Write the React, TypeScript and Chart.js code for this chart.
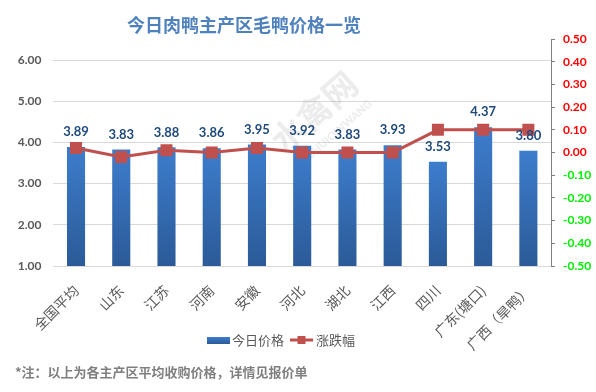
import React, { useEffect, useRef } from 'react';
import { Chart, registerables } from 'chart.js';
Chart.register(...registerables);

const categories = ['全国平均', '山东', '江苏', '河南', '安徽', '河北', '湖北', '江西', '四川', '广东(塘口)', '广西（旱鸭）'];
const prices = [3.89, 3.83, 3.88, 3.86, 3.95, 3.92, 3.83, 3.93, 3.53, 4.37, 3.80];
const changes = [0.02, -0.02, 0.01, 0.0, 0.02, 0.0, 0.0, 0.0, 0.1, 0.1, 0.1];
const leftTicks = [1, 2, 3, 4, 5, 6];
const seriesNames = ['今日价格', '涨跌幅'];
const titleText = '今日肉鸭主产区毛鸭价格一览';
const noteText = '*注：以上为各主产区平均收购价格，详情见报价单';

const CJK = '"Noto Sans CJK SC", sans-serif';
const NUM = 'Lato, "Noto Sans CJK SC", sans-serif';
const BAR_TOP = '#3d7dcd';
const BAR_BOTTOM = '#2b5a97';
const RED = '#c0504d';

export default function App() {
  const ref = useRef<HTMLCanvasElement>(null);
  useEffect(() => {
    document.body.style.margin = '0';
    const canvas = ref.current!;
    const decor = {
      id: 'decor',
      beforeDatasetsDraw(chart: any) {
        const c = chart.ctx;
        c.save();
        c.translate(314, 112);
        c.rotate(-0.72);
        c.fillStyle = 'rgba(160,160,160,0.2)';
        c.font = `bold 34px ${CJK}`;
        c.textAlign = 'center';
        c.textBaseline = 'middle';
        c.fillText('水禽网', 0, 0);
        c.font = `bold 11px ${NUM}`;
        c.fillText('SHUIQINWANG', 8, 30);
        c.restore();
      },
      afterDatasetsDraw(chart: any) {
        const c = chart.ctx;
        const meta = chart.getDatasetMeta(1);
        c.save();
        c.font = `bold 13px ${NUM}`;
        c.fillStyle = '#1f497d';
        c.textAlign = 'center';
        c.textBaseline = 'middle';
        meta.data.forEach((el: any, i: number) => {
          c.fillText(prices[i].toFixed(2), el.x, el.y - 15);
        });
        c.restore();
      },
      afterDraw(chart: any) {
        const c = chart.ctx;
        c.save();
        // title
        c.font = `bold 18px ${CJK}`;
        c.fillStyle = '#4f81bd';
        c.textAlign = 'center';
        c.textBaseline = 'middle';
        c.fillText(titleText, 244, 25);
        // legend
        const ly = 340;
        const g = c.createLinearGradient(0, ly - 3, 0, ly + 4);
        g.addColorStop(0, BAR_TOP);
        g.addColorStop(1, BAR_BOTTOM);
        c.fillStyle = g;
        c.fillRect(207, ly - 3, 23, 7);
        c.font = `13px ${CJK}`;
        c.fillStyle = '#595959';
        c.textAlign = 'left';
        c.fillText(seriesNames[0], 232, ly);
        c.strokeStyle = RED;
        c.lineWidth = 3;
        c.beginPath();
        c.moveTo(290, ly);
        c.lineTo(313, ly);
        c.stroke();
        c.fillStyle = RED;
        c.fillRect(297.5, ly - 4, 8, 8);
        c.fillStyle = '#595959';
        c.fillText(seriesNames[1], 316, ly);
        // note
        c.font = `bold 13px ${CJK}`;
        c.fillStyle = '#7f7f7f';
        c.fillText(noteText, 15, 372);
        c.restore();
      },
    };

    const chart = new Chart(canvas, {
      data: {
        labels: categories,
        datasets: [
          {
            type: 'line',
            label: seriesNames[1],
            data: changes,
            yAxisID: 'y1',
            borderColor: RED,
            backgroundColor: RED,
            borderWidth: 3,
            pointStyle: 'rect',
            pointRadius: 8.5,
            pointBackgroundColor: RED,
            pointBorderColor: RED,
            pointBorderWidth: 0,
            order: 1,
          } as any,
          {
            type: 'bar',
            label: seriesNames[0],
            data: prices,
            yAxisID: 'y',
            barPercentage: 0.4,
            categoryPercentage: 1,
            order: 2,
            backgroundColor: (ctx: any) => {
              const ch = ctx.chart;
              if (!ch.chartArea || ctx.type !== 'data' || !ch.scales.y) return BAR_TOP;
              const ys = ch.scales.y;
              const top = ys.getPixelForValue(ctx.parsed.y);
              const bottom = ys.getPixelForValue(1);
              const g = ch.ctx.createLinearGradient(0, top, 0, bottom);
              g.addColorStop(0, BAR_TOP);
              g.addColorStop(1, BAR_BOTTOM);
              return g;
            },
          } as any,
        ],
      },
      options: {
        responsive: false,
        animation: false,
        devicePixelRatio: 1,
        layout: { padding: { top: 39, left: 0, right: 0, bottom: 0 } },
        plugins: { legend: { display: false }, title: { display: false }, tooltip: { enabled: false } },
        scales: {
          x: {
            grid: { display: false },
            border: { display: false },
            ticks: {
              autoSkip: false,
              minRotation: 45,
              maxRotation: 45,
              padding: 8,
              color: '#595959',
              font: { family: CJK, size: 14 },
            },
            afterFit: (s: any) => { s.height = 126; },
          },
          y: {
            position: 'left',
            min: 1,
            max: 6.51,
            afterBuildTicks: (s: any) => { s.ticks = leftTicks.map((v) => ({ value: v })); },
            grid: { color: '#d9d9d9', drawTicks: false },
            border: { display: false },
            ticks: {
              padding: 12,
              color: '#595959',
              font: { family: NUM, size: 12, weight: 'bold' },
              callback: (v: any) => Number(v).toFixed(2),
            },
            afterFit: (s: any) => { s.width = 53.4; },
          },
          y1: {
            position: 'right',
            min: -0.5,
            max: 0.5,
            ticks: {
              stepSize: 0.1,
              padding: 8,
              font: { family: NUM, size: 12, weight: 'bold' },
              color: (ctx: any) => (ctx.tick && ctx.tick.value < -1e-9 ? '#00ee00' : '#ff0000'),
              callback: (v: any) => Number(v).toFixed(2),
            },
            grid: { drawOnChartArea: false, tickLength: 4, color: '#808080' },
            border: { display: true, color: '#808080' },
            afterFit: (s: any) => { s.width = 45; },
          },
        },
      } as any,
      plugins: [decor],
    });
    return () => chart.destroy();
  }, []);
  return (
    <div style={{ width: 596, height: 392 }}>
      <canvas ref={ref} width={596} height={392} style={{ display: 'block' }} />
    </div>
  );
}
